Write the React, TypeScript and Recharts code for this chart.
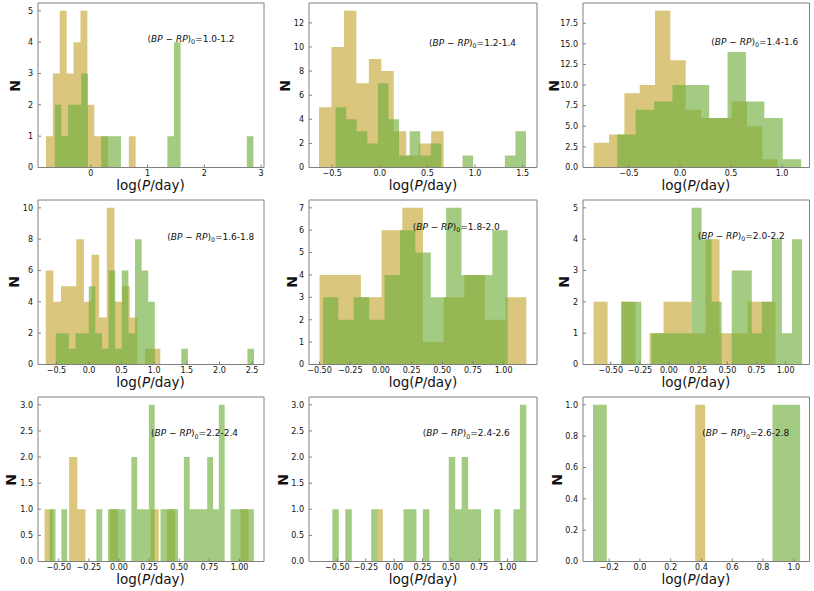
import React from "react";
import { ComposedChart, Area, XAxis, YAxis, ReferenceLine } from "recharts";

// histogram counts per bin; bins are equal width over [lo, hi]
// (BP-RP)0 = 1.0-1.2
const p1GoldCounts = [1, 3, 5, 3, 4, 5, 2, 1, 1, 0, 0, 0, 1];
const p1GoldRange = [-0.79, 0.79];
const p1GreenCounts = [2, 1, 2, 2, 3, 0, 0, 1, 1, 1, 0, 0, 0, 0, 0, 0, 0, 1, 4, 0, 0, 0, 0, 0, 0, 0, 0, 0, 0, 1];
const p1GreenRange = [-0.634, 2.864];

// 1.2-1.4
const p2GoldCounts = [5, 10, 13, 7, 9, 8, 3, 1, 2, 3];
const p2GoldRange = [-0.638, 0.67];
const p2GreenCounts = [5, 4, 3, 2, 7, 4, 1, 3, 1, 2, 0, 0, 1, 0, 0, 0, 1, 3];
const p2GreenRange = [-0.464, 1.535];

// 1.4-1.6
const p3GoldCounts = [3, 4, 9, 10, 19, 13, 7, 6, 6, 8, 5, 1];
const p3GoldRange = [-0.846, 0.957];
const p3GreenCounts = [4, 7, 8, 10, 10, 6, 14, 8, 6, 1];
const p3GreenRange = [-0.616, 1.187];

// 1.6-1.8
const p4GoldCounts = [6, 4, 5, 5, 8, 4, 7, 3, 10, 4, 5, 3, 0, 1, 1];
const p4GoldRange = [-0.664, 1.093];
const p4GreenCounts = [2, 2, 1, 2, 2, 5, 2, 1, 6, 1, 6, 2, 8, 6, 4, 0, 0, 0, 0, 1, 0, 0, 0, 0, 0, 0, 0, 0, 0, 1];
const p4GreenRange = [-0.511, 2.53];

// 1.8-2.0
const p5GoldCounts = [4, 4, 3, 6, 7, 1, 3, 4, 2, 3];
const p5GoldRange = [-0.5, 1.185];
const p5GreenCounts = [3, 2, 3, 2, 4, 6, 5, 3, 7, 4, 4, 6];
const p5GreenRange = [-0.472, 1.033];

// 2.0-2.2
const p6GoldCounts = [2, 0, 2, 0, 1, 2, 2, 1, 4, 1, 1, 2, 2];
const p6GoldRange = [-0.647, 0.913];
const p6GreenCounts = [2, 2, 0, 1, 1, 1, 1, 5, 4, 2, 0, 3, 3, 1, 2, 4, 1, 4];
const p6GreenRange = [-0.41, 1.141];

// 2.2-2.4
const p7GoldCounts = [1, 0, 0, 2, 1, 0, 0, 0, 1, 0, 0, 0, 0, 1, 0, 1, 0, 0, 0, 0, 0, 0, 0, 0, 1];
const p7GoldRange = [-0.617, 1.075];
const p7GreenCounts = [1, 0, 1, 0, 0, 0, 0, 0, 1, 0, 1, 1, 1, 0, 2, 1, 1, 3, 0, 1, 1, 1, 0, 2, 1, 1, 1, 2, 1, 3, 0, 1, 1, 1, 1];
const p7GreenRange = [-0.575, 1.119];

// 2.4-2.6
const p8GoldCounts = [1];
const p8GoldRange = [-0.147, -0.1];
const p8GreenCounts = [1, 0, 1, 0, 0, 0, 1, 0, 0, 0, 0, 1, 1, 0, 1, 0, 0, 0, 2, 1, 2, 1, 1, 0, 0, 1, 0, 0, 1, 3];
const p8GreenRange = [-0.544, 1.165];

// 2.6-2.8
const p9GoldCounts = [1];
const p9GoldRange = [0.359, 0.424];
const p9GreenCounts = [1, 0, 0, 0, 0, 0, 0, 0, 0, 0, 0, 0, 0, 1, 1];
const p9GreenRange = [-0.305, 1.041];

const bins = ["1.0-1.2", "1.2-1.4", "1.4-1.6", "1.6-1.8", "1.8-2.0", "2.0-2.2", "2.2-2.4", "2.4-2.6", "2.6-2.8"];

const ticksHalf = [-0.5, 0, 0.5, 1, 1.5];
const ticksQuarter = [-0.5, -0.25, 0, 0.25, 0.5, 0.75, 1];

const FONT = "'DejaVu Sans', sans-serif";
const GOLD = "#c6a736";
const GREEN = "#71b03f";
const SPINE = "#808080";

const colLeft = [37.5, 309, 582.7];
const colWidth = [226, 228, 226.5];
const rowTop = [3.3, 200, 397.3];
const PH = 164.5;
const YW = 40;
const MT = 2;
const MR = 2;
const XH = 16;

const panels = [
  { gold: p1GoldCounts, goldR: p1GoldRange, green: p1GreenCounts, greenR: p1GreenRange, xDomain: [-0.93, 3.05], xTicks: [0, 1, 2, 3], xDec: 0, yTicks: [0, 1, 2, 3, 4, 5], yDec: 0, note: [110, 35.7], nx: 22.5 },
  { gold: p2GoldCounts, goldR: p2GoldRange, green: p2GreenCounts, greenR: p2GreenRange, xDomain: [-0.743, 1.65], xTicks: ticksHalf, xDec: 1, yTicks: [0, 2, 4, 6, 8, 10, 12], yDec: 0, note: [120, 39.7], nx: 24 },
  { gold: p3GoldCounts, goldR: p3GoldRange, green: p3GreenCounts, greenR: p3GreenRange, xDomain: [-0.951, 1.269], xTicks: [-0.5, 0, 0.5, 1], xDec: 1, yTicks: [0, 2.5, 5, 7.5, 10, 12.5, 15, 17.5], yDec: 1, note: [128.6, 38.4], nx: 29 },
  { gold: p4GoldCounts, goldR: p4GoldRange, green: p4GreenCounts, greenR: p4GreenRange, xDomain: [-0.782, 2.683], xTicks: [-0.5, 0, 0.5, 1, 1.5, 2, 2.5], xDec: 1, yTicks: [0, 2, 4, 6, 8, 10], yDec: 0, note: [129.8, 36.7], nx: 24 },
  { gold: p5GoldCounts, goldR: p5GoldRange, green: p5GreenCounts, greenR: p5GreenRange, xDomain: [-0.586, 1.272], xTicks: ticksQuarter, xDec: 2, yTicks: [0, 1, 2, 3, 4, 5, 6, 7], yDec: 0, note: [103.7, 27], nx: 17 },
  { gold: p6GoldCounts, goldR: p6GoldRange, green: p6GreenCounts, greenR: p6GreenRange, xDomain: [-0.738, 1.205], xTicks: ticksQuarter, xDec: 2, yTicks: [0, 1, 2, 3, 4, 5], yDec: 0, note: [115, 35.7], nx: 18.7 },
  { gold: p7GoldCounts, goldR: p7GoldRange, green: p7GreenCounts, greenR: p7GreenRange, xDomain: [-0.672, 1.203], xTicks: ticksQuarter, xDec: 2, yTicks: [0, 0.5, 1, 1.5, 2, 2.5, 3], yDec: 1, note: [113.5, 36], nx: 26.3 },
  { gold: p8GoldCounts, goldR: p8GoldRange, green: p8GreenCounts, greenR: p8GreenRange, xDomain: [-0.75, 1.259], xTicks: ticksQuarter, xDec: 2, yTicks: [0, 0.5, 1, 1.5, 2, 2.5, 3], yDec: 1, note: [113.7, 36], nx: 26 },
  { gold: p9GoldCounts, goldR: p9GoldRange, green: p9GreenCounts, greenR: p9GreenRange, xDomain: [-0.37, 1.102], xTicks: [-0.2, 0, 0.2, 0.4, 0.6, 0.8, 1], xDec: 1, yTicks: [0, 0.2, 0.4, 0.6, 0.8, 1], yDec: 1, note: [119.6, 36], nx: 25.7 },
];

// step points: one per left bin edge, plus the closing right edge
function histData(counts: number[], range: number[]) {
  const [lo, hi] = range;
  const w = (hi - lo) / counts.length;
  const pts = counts.map((n, i) => ({ x: lo + i * w, n }));
  pts.push({ x: hi, n: counts[counts.length - 1] });
  return pts;
}

const fmt = (d: number) => (v: number) => {
  const s = Math.abs(v).toFixed(d);
  return v < -1e-9 ? "\u2212" + s : s;
};

const tickStyle = { fontSize: 8, fill: "#111", fontFamily: FONT };

const Panel = ({ p, idx }: { p: any; idx: number }) => {
  const col = idx % 3;
  const row = Math.floor(idx / 3);
  const left = colLeft[col];
  const top = rowTop[row];
  const width = colWidth[col];
  const yMax = Math.max(...p.gold, ...p.green) * 1.05;

  return (
    <>
      <div style={{ position: "absolute", left: left - YW, top: top - MT }}>
        <ComposedChart width={YW + width + MR} height={MT + PH + XH} margin={{ top: MT, right: MR, left: 0, bottom: 0 }}>
          <XAxis
            dataKey="x"
            type="number"
            domain={p.xDomain}
            ticks={p.xTicks}
            allowDataOverflow
            interval={0}
            tickFormatter={fmt(p.xDec)}
            tickSize={-3}
            tickMargin={5.5}
            height={XH}
            stroke={SPINE}
            tick={tickStyle}
          />
          <YAxis
            type="number"
            domain={[0, yMax]}
            ticks={p.yTicks}
            allowDataOverflow
            interval={0}
            tickFormatter={fmt(p.yDec)}
            tickSize={-3}
            tickMargin={8}
            width={YW}
            stroke={SPINE}
            tick={tickStyle}
          />
          <Area
            data={histData(p.gold, p.goldR)}
            dataKey="n"
            type="stepAfter"
            fill={GOLD}
            fillOpacity={0.65}
            stroke="none"
            dot={false}
            activeDot={false}
            isAnimationActive={false}
          />
          <Area
            data={histData(p.green, p.greenR)}
            dataKey="n"
            type="stepAfter"
            fill={GREEN}
            fillOpacity={0.65}
            stroke="none"
            dot={false}
            activeDot={false}
            isAnimationActive={false}
          />
          <ReferenceLine y={yMax} stroke={SPINE} />
          <ReferenceLine x={p.xDomain[1]} stroke={SPINE} />
        </ComposedChart>
      </div>
      <div
        style={{
          position: "absolute",
          left: left + p.note[0],
          top: top + p.note[1] - 6,
          fontSize: 9,
          lineHeight: "12px",
          whiteSpace: "nowrap",
          fontFamily: FONT,
          color: "#111",
        }}
      >
        (<i>BP</i> − <i>RP</i>)<span style={{ fontSize: "0.7em", position: "relative", top: "0.35em" }}>0</span>={bins[idx]}
      </div>
      <div
        style={{
          position: "absolute",
          left: left,
          width: width,
          top: top + PH + 9.5,
          textAlign: "center",
          fontSize: 13.5,
          lineHeight: "16px",
          fontFamily: FONT,
          color: "#111",
        }}
      >
        log(<i>P</i>/day)
      </div>
      <div
        style={{
          position: "absolute",
          left: left - p.nx - 10,
          top: top + PH / 2 - 8,
          width: 20,
          height: 16,
          lineHeight: "16px",
          textAlign: "center",
          transform: "rotate(-90deg)",
          fontSize: 14,
          fontWeight: "bold",
          fontFamily: FONT,
          color: "#111",
        }}
      >
        N
      </div>
    </>
  );
};

const App = () => {
  return (
    <div style={{ position: "absolute", left: 0, top: 0, width: 814, height: 591, background: "#fff", fontFamily: FONT }}>
      {panels.map((p, i) => (
        <Panel key={i} p={p} idx={i} />
      ))}
    </div>
  );
};

export default App;
